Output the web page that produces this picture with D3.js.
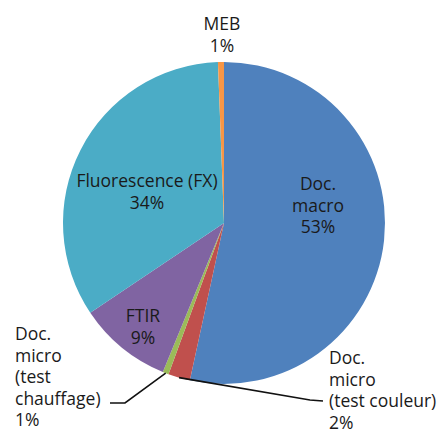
<!DOCTYPE html>
<html>
<head>
<meta charset="utf-8">
<script src="https://cdn.jsdelivr.net/npm/d3@7"></script>
<style>
  body { margin: 0; background: #fff; }
  text { font-family: "Open Sans", "Noto Sans", sans-serif; font-size: 17.5px; fill: #1a1a1a; }
</style>
</head>
<body>
<svg id="chart"></svg>
<script>
// ============ DATA ============
const categories = ["Doc. macro", "Doc. micro (test couleur)", "Doc. micro (test chauffage)", "FTIR", "Fluorescence (FX)", "MEB"];
const values = [53.4, 2.2, 0.6, 9.4, 33.8, 0.6];
const labelLines = [
  ["Doc.", "macro"],
  ["Doc.", "micro", "(test couleur)"],
  ["Doc.", "micro", "(test", "chauffage)"],
  ["FTIR"],
  ["Fluorescence (FX)"],
  ["MEB"]
];
const colors = ["#4f81bd", "#c0504d", "#9bbb59", "#8064a2", "#4bacc6", "#f79646"];

// ============ LAYOUT ============
const width = 440, height = 433;
const cx = 224, cy = 223, radius = 161;

// label anchor, alignment and leader bend (no leader = label inside / above slice)
const labelPos = [
  { x: 318, y: 190, anchor: "middle" },
  { x: 329, y: 364, anchor: "start", leader: [[310, 400], [323, 401]] },
  { x: 15, y: 340, anchor: "start", leader: [[125, 403], [110, 403]] },
  { x: 143, y: 322, anchor: "middle" },
  { x: 147, y: 187, anchor: "middle" },
  { x: 222, y: 30, anchor: "middle" }
];
const lineH = 21.6;

const svg = d3.select("#chart").attr("width", width).attr("height", height);
const g = svg.append("g").attr("transform", `translate(${cx},${cy})`);

const data = categories.map((c, i) => ({ name: c, value: values[i], i: i }));
const pie = d3.pie().value(d => d.value).sort(null);
const arc = d3.arc().innerRadius(0).outerRadius(radius);
const arcs = pie(data);

g.selectAll("path.slice")
  .data(arcs)
  .enter()
  .append("path")
  .attr("class", "slice")
  .attr("d", arc)
  .style("fill", d => colors[d.data.i]);

// leader lines
arcs.forEach(d => {
  const p = labelPos[d.data.i];
  if (!p.leader) return;
  const mid = (d.startAngle + d.endAngle) / 2;
  const start = [cx + radius * Math.sin(mid), cy - radius * Math.cos(mid)];
  const pts = [start].concat(p.leader);
  svg.append("path")
    .attr("d", d3.line()(pts))
    .style("fill", "none")
    .style("stroke", "#111")
    .style("stroke-width", 1.6);
});

// labels
arcs.forEach(d => {
  const p = labelPos[d.data.i];
  const lines = labelLines[d.data.i].concat([Math.round(d.data.value) + "%"]);
  const t = svg.append("text")
    .attr("text-anchor", p.anchor);
  lines.forEach((ln, k) => {
    t.append("tspan").attr("x", p.x).attr("y", p.y + k * lineH).text(ln);
  });
});
</script>
</body>
</html>
